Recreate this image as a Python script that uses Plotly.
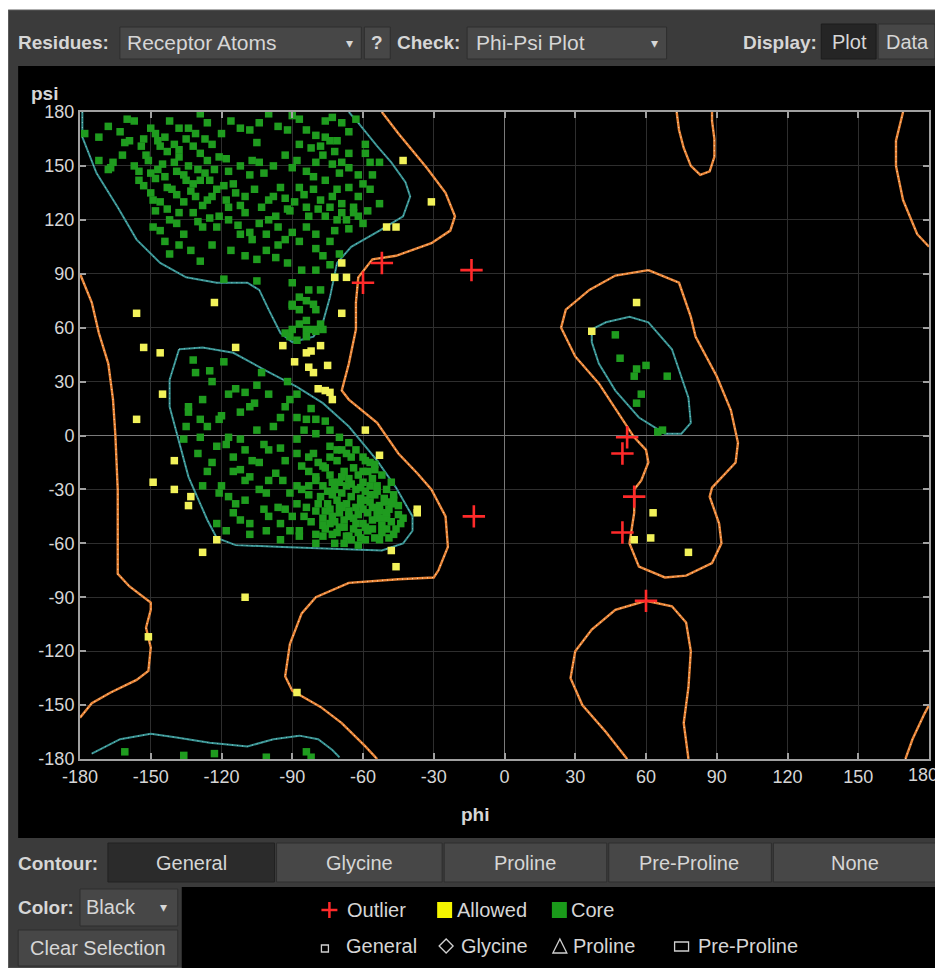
import plotly.graph_objects as go

# ---------------- data ----------------
tick_vals = [-180, -150, -120, -90, -60, -30, 0, 30, 60, 90, 120, 150, 180]

outlier_phi = [-52, -60, -14, -13, 52, 50, 55, 50, 60]
outlier_psi = [96, 85, 92, -45, -1, -10, -34, -54, -92]

allowed_phi = [-43, -31, -50, -46, -69, -67, -72, -69, -123, -156, -153, -114, -94, -78,
               -146, -145, -89, -84, -82, -83, -81, -75, -79, -76, -74, -73, -59, -53,
               -156, -140, -149, -140, -133, -134, -122, -128, -37, -37, -48, -46,
               -110, -151, -88, 56, 37, 63, 62, 78, 55]
allowed_psi = [153, 130, 116, 116, 96, 88, 88, 68, 74, 68, 49, 49, 50, 50,
               46, 23, 41, 46, 47, 38, 35, 39, 26, 25, 24, 20, 3, -11,
               9, -14, -26, -30, -34, -39, -58, -65, -41, -43, -64, -73,
               -90, -112, -143, 74, 58, -43, -57, -65, -58]

core_phi = [
    # beta region
    -178, -172, -163, -157, -150, -142, -138, -134, -129, -126, -112, -100, -92, -87, -80, -76, -73, -76, -71, -66, -59,
    -161, -159, -154, -152, -151, -148, -146, -143, -147, -138, -138, -132, -129, -126, -124, -121, -118, -105, -107, -104,
    -90, -87, -78, -74, -73, -69, -66, -59, -57, -53, -172, -167, -166, -168,
    -155, -153, -155, -147, -145, -148, -143, -141, -139, -136, -135, -132, -129, -127, -125, -131, -126, -122, -119, -115,
    -114, -110, -100, -98, -95, -91, -87, -81, -81, -76, -73, -71, -69, -66, -64, -62, -57, -53, -149, -136, -70, -78,
    -148, -146, -142, -139, -136, -132, -128, -122, -121, -117, -110, -104, -100, -97, -96, -92, -87, -84, -76, -71, -67,
    -64, -60, -149, -112, -107, -93, -80,
    -142, -129, -119, -105, -97, -105, -80, -77, -70,
    -168, -160, -153, -144, -140, -135, -131, -127, -120, -116, -108, -104, -96, -90, -84, -82, -69, -63,
    -162, -157, -150, -144, -140, -134, -130, -123, -117, -112, -108, -102, -98, -93, -88, -84, -80, -77, -72, -66,
    -62, -60, -56, -150, -146, -139, -133, -128, -124, -118, -112, -106, -103, -93, -89, -85, -83, -79, -74, -69,
    -66, -62, -58, -143, -138, -130, -125, -117, -113, -108, -101, -96, -90, -84, -80, -74, -72,
    -144, -138, -133, -124, -116, -110, -101, -92, -86, -74, -72,
    # bridge
    -90, -87, -90, -87, -84, -81, -78, -83, -80, -87, -84, -90, -84, -91, -81, -78, -77, -90,
    -93, -88, -84, -80,
    # alpha region
    -132, -125, -119, -131, -103, -105, -114, -117, -100, -134, -134, -129, -126, -120, -121, -112, -108, -106, -93, -95,
    -91, -88, -112, -117, -129, -136, -105, -104, -107, -100, -95, -88, -84, -80, -76, -85, -80, -74, -70, -66,
    -93, -88, -83, -86, -122, -115, -124, -112, -108, -128, -121, -117, -114, -115, -110, -108, -101, -102, -94, -97,
    -91, -88, -93, -87, -87, -83, -80, -77, -74, -71, -67, -63, -60, -57, -55,
    -80, -77, -74, -72, -70, -68, -66, -64, -62, -60, -58, -56, -54, -52, -50, -48,
    -78, -75, -73, -71, -69, -67, -65, -63, -61, -59, -57, -55, -53, -51, -49, -47, -45,
    -80, -77, -74, -72, -70, -68, -66, -64, -62, -60, -58, -56, -54, -52, -50, -48, -46, -44,
    -76, -73, -70, -67, -64, -61, -58, -55, -52, -49, -68, -62,
    -84, -82, -86, -83, -79, -71, -65, -59, -63, -67, -57, -61, -69, -75, -53, -59,
    -118, -122, -112, -101, -95, -91, -108, -77, -66, -59,
    -76, -73, -69, -65, -61, -57, -54, -50, -47, -45, -43, -79, -76, -73, -70, -66, -63, -60, -56, -53,
    -50, -48, -77, -74, -71, -68, -65, -62, -59, -56, -53, -50, -47, -80, -83, -85, -88, -81, -74, -69,
    -60, -55, -90, -96, -100, -104, -110, -115, -120, -118, -110, -102, -98, -88, -82, -92, -110, -124, -128, -135,
    -130, -126, -100, -95, -80, -72,
    # left-handed region
    47, 49, 56, 55, 60, 69, 58, 56, 67, 65,
    # bottom strip
    -161, -136, -123, -101, -84, -82,
]
core_psi = [
    168, 166, 169, 175, 171, 175, 171, 171, 179, 174, 171, 179, 170, 176, 167, 175, 177, 166, 164, 169, 162,
    163, 164, 161, 156, 153, 168, 161, 158, 164, 159, 155, 161, 157, 153, 162, 155, 154, 163, 153, 152,
    149, 162, 161, 164, 151, 152, 149, 157, 152, 152, 153, 149, 152, 148,
    147, 139, 142, 148, 151, 143, 138, 137, 147, 145, 142, 140, 142, 146, 142, 133, 131, 137, 139, 140,
    135, 133, 131, 133, 138, 125, 138, 137, 144, 142, 133, 137, 129, 138, 127, 133, 137, 129, 131, 130, 146, 131,
    125, 114, 120, 118, 112, 124, 116, 116, 122, 127, 124, 118, 120, 122, 116, 126, 108, 127, 122, 120, 120,
    124, 118, 116, 112, 109, 109, 112,
    101, 97, 87, 98, 99, 86, 92, 100, 101,
    172, 176, 165, 166, 162, 165, 168, 165, 168, 175, 170, 174, 172, 178, 170, 160, 174, 176,
    156, 150, 146, 144, 152, 150, 148, 148, 147, 150, 145, 146, 150, 156, 153, 147, 152, 156, 158, 157,
    145, 140, 145, 135, 130, 134, 136, 128, 133, 131, 128, 137, 127, 132, 130, 134, 122, 126, 127, 124,
    115, 122, 125, 126, 124, 119, 121, 120, 117, 113, 112, 106, 113, 116, 104, 108, 114,
    108, 106, 103, 106, 103, 100, 103, 96, 92, 95, 88,
    85, 77, 73, 70, 75, 73, 81, 81, 70, 62, 64, 59, 59, 55, 59, 62, 59, 72,
    57, 53, 55, 58,
    42, 36, 41, 35, 35, 28, 26, 23, 23, 16, 13, 9, 5, 11, 9, 13, 16, 18, 16, 10,
    20, 23, -2, -1, -1, -2, 3, -15, -14, -8, -7, -2, 9, 9, 8, 3, 1, 3, -1, -4,
    -14, -10, -12, -17, -6, -12, -15, -19, -23, -28, -32, -34, -38, -43, -36, -49, -32, -41, -25, -21,
    -32, -38, -41, -53, -56, -28, -23, -17, -12, -8, -10, -8, -12, -15, -19,
    -25, -28, -22, -30, -26, -20, -24, -18, -22, -26, -20, -24, -28, -22, -30, -26,
    -34, -38, -33, -36, -32, -38, -34, -40, -35, -31, -37, -33, -39, -35, -41, -36, -44,
    -42, -46, -41, -48, -43, -47, -42, -46, -44, -49, -43, -47, -44, -50, -46, -48, -52, -49,
    -52, -55, -51, -56, -52, -57, -53, -57, -54, -57, -60, -61,
    -40, -48, -30, -20, -15, -14, -12, -14, -30, -28, -28, -38, -40, -31, -46, -36,
    -53, -49, -47, -53, -49, -53, -55, -56, -56, -51,
    -18, -26, -23, -27, -29, -33, -31, -37, -33, -39, -46, -38, -42, -45, -39, -45, -49, -41, -40, -42,
    -43, -38, -50, -49, -54, -51, -58, -54, -58, -52, -58, -52, -55, -55, -33, -45, -28, -10, -6, -8,
    -20, -16, -45, -40, -25, -30, -25, -20, -28, -5, -8, -5, 5, 10, 15, 30, 24, 30, 20, 5,
    -10, -20, -45, -58, -60, -60,
    56, 43, 37, 33, 39, 33, 23, 18, 3, 2,
    -176, -178, -177, -179, -176, -179,
]

# allowed-region (orange) contours
allow1_phi = [-52, -45, -33, -25, -21, -23, -31, -46, -56, -62, -63, -63, -66, -69, -66, -54, -45, -37, -31, -25,
              -24, -28, -30, -45, -66, -80, -86, -91, -93, -90, -78, -69, -59, -54]
allow1_psi = [180, 168, 149, 135, 122, 114, 107, 100, 98, 88, 74, 59, 40, 25, 20, 7, -10, -21, -30, -45,
              -62, -75, -79, -80, -82, -90, -99, -116, -134, -142, -151, -160, -173, -180]
allow2_phi = [-180, -175, -172, -168, -166, -165, -164, -164, -164, -159, -150, -150, -152, -150, -151, -156, -167, -175, -180]
allow2_psi = [90, 74, 57, 40, 20, 0, -30, -55, -77, -84, -93, -97, -107, -118, -131, -136, -143, -149, -157]
allow3_phi = [61, 74, 79, 81, 90, 96, 99, 98, 88, 87, 91, 92, 88, 77, 68, 57, 53, 55, 55, 58, 61, 60, 55, 48, 40, 30, 24, 26, 36, 47, 61]
allow3_psi = [92, 85, 66, 55, 33, 14, -4, -15, -29, -34, -49, -60, -71, -78, -79, -73, -60, -43, -30, -25, -15, -8, -1, 13, 29, 44, 60, 70, 81, 89, 92]
allow4_phi = [52, 43, 33, 28, 30, 37, 47, 60, 71, 77, 79, 78, 76, 78]
allow4_psi = [-180, -165, -150, -135, -120, -108, -97, -92, -95, -104, -120, -140, -160, -180]
allow5_phi = [73, 74, 76, 79, 83, 87, 89, 89, 88, 88]
allow5_psi = [180, 170, 160, 150, 145, 147, 155, 165, 175, 180]
allow6_phi = [169, 166, 166, 169, 175, 180]
allow6_psi = [180, 164, 150, 131, 112, 105]
allow7_phi = [170, 173, 178, 180]
allow7_psi = [-180, -169, -155, -150]

# core-region (teal) contours
core1_phi = [-179, -179, -173, -164, -156, -146, -135, -122, -109, -104, -100, -95, -90, -81, -77, -74, -71, -65, -53, -43,
             -40, -42, -48, -54, -62, -66]
core1_psi = [180, 166, 146, 127, 109, 96, 88, 85, 85, 81, 70, 57, 52, 55, 63, 77, 96, 105, 114, 122,
             133, 141, 152, 161, 174, 180]
core2_phi = [-138, -142, -142, -138, -134, -129, -126, -122, -114, -94, -73, -52, -43, -39, -39, -46, -54, -66, -77, -88,
             -101, -115, -128, -138]
core2_psi = [48, 31, 16, -3, -23, -38, -47, -57, -61, -62, -63, -64, -60, -53, -45, -29, -14, 5, 18, 27,
             36, 46, 49, 48]
core3_phi = [37, 43, 53, 61, 71, 78, 79, 75, 68, 57, 47, 40, 37, 37]
core3_psi = [59, 63, 66, 63, 48, 21, 7, 1, 1, 10, 25, 40, 52, 59]
core4_phi = [-175, -163, -150, -139, -125, -109, -98, -87, -79, -73, -70]
core4_psi = [-177, -169, -166, -168, -171, -173, -169, -167, -169, -175, -179]

allowed_contours = [(allow1_phi, allow1_psi), (allow2_phi, allow2_psi), (allow3_phi, allow3_psi),
                    (allow4_phi, allow4_psi), (allow5_phi, allow5_psi), (allow6_phi, allow6_psi),
                    (allow7_phi, allow7_psi)]
core_contours = [(core1_phi, core1_psi), (core2_phi, core2_psi), (core3_phi, core3_psi), (core4_phi, core4_psi)]

# ---------------- figure ----------------
OFF = 8                      # page body margin of the html page
W, H = 943 - OFF, 968 - OFF  # figure size
L, R, T, B = 80, 931, 112, 759  # plot area in page pixels


def px(x):
    return (x - L) / (R - L)


def py(y):
    return (B - y) / (B - T)


FONT = "Liberation Sans, Arial, sans-serif"
TXT = "#d6d6d6"
UI = 20

fig = go.Figure()

for cphi, cpsi in allowed_contours:
    fig.add_trace(go.Scatter(x=cphi, y=cpsi, mode="lines", line=dict(color="#ea8638", width=2.4),
                             hoverinfo="skip", showlegend=False))
    fig.add_trace(go.Scatter(x=cphi, y=cpsi, mode="lines", line=dict(color="#ffd2a8", width=1.2, dash="1px,4px"),
                             hoverinfo="skip", showlegend=False))
for cphi, cpsi in core_contours:
    fig.add_trace(go.Scatter(x=cphi, y=cpsi, mode="lines", line=dict(color="#379292", width=2),
                             hoverinfo="skip", showlegend=False))
    fig.add_trace(go.Scatter(x=cphi, y=cpsi, mode="lines", line=dict(color="#8cc8c8", width=1, dash="1px,4px"),
                             hoverinfo="skip", showlegend=False))

fig.add_trace(go.Scatter(x=core_phi, y=core_psi, mode="markers", name="Core",
                         marker=dict(symbol="square", size=7.5, color="#1f9c1f", line=dict(width=0)),
                         showlegend=False))
fig.add_trace(go.Scatter(x=allowed_phi, y=allowed_psi, mode="markers", name="Allowed",
                         marker=dict(symbol="square", size=7.5, color="#f2f25a", line=dict(width=0)),
                         showlegend=False))
fig.add_trace(go.Scatter(x=outlier_phi, y=outlier_psi, mode="markers", name="Outlier",
                         marker=dict(symbol="cross-thin", size=16, color="#ff2a2a",
                                     line=dict(width=2.6, color="#ff2a2a")),
                         showlegend=False))

shapes = []


def rect(x0, y0, x1, y1, fill, line="rgba(0,0,0,0)", lw=0):
    shapes.append(dict(type="rect", xref="paper", yref="paper", x0=px(x0), x1=px(x1), y0=py(y1), y1=py(y0),
                       fillcolor=fill, line=dict(color=line, width=lw), layer="below"))


def path(pts, fill=None, line="#d0d0d0", lw=1.3):
    d = "M " + " L ".join(f"{px(a):.5f},{py(b):.5f}" for a, b in pts) + " Z"
    shapes.append(dict(type="path", xref="paper", yref="paper", path=d,
                       fillcolor=fill if fill else "rgba(0,0,0,0)", line=dict(color=line, width=lw)))


# panels
rect(8, 10, 943, 968, "#3b3b3b", "#5c5c5c", 1)
rect(18, 66, 940, 838, "#000000")
# toolbar controls
rect(120, 27, 362, 59, "#474747", "#2e2e2e", 1)
rect(365, 27, 391, 59, "#474747", "#2e2e2e", 1)
rect(468, 27, 668, 59, "#474747", "#2e2e2e", 1)
rect(823, 24, 878, 59, "#252525", "#1c1c1c", 1)
rect(880, 24, 937, 59, "#474747", "#2e2e2e", 1)
# contour bar
rect(108, 843, 275, 882, "#2b2b2b", "#222222", 1)
for x0, x1 in [(277, 443), (445, 608), (610, 773), (775, 940)]:
    rect(x0, 843, x1, 882, "#474747", "#2e2e2e", 1)
# colour / clear selection
rect(80, 889, 178, 926, "#474747", "#2e2e2e", 1)
rect(18, 930, 178, 966, "#474747", "#2e2e2e", 1)
rect(182, 887, 940, 968, "#000000")

# legend symbols
shapes.append(dict(type="line", xref="paper", yref="paper", x0=px(322), x1=px(338), y0=py(910), y1=py(910),
                   line=dict(color="#ff2a2a", width=2.5)))
shapes.append(dict(type="line", xref="paper", yref="paper", x0=px(330), x1=px(330), y0=py(902), y1=py(918),
                   line=dict(color="#ff2a2a", width=2.5)))
rect(438, 902, 453, 918, "#f5f500")
rect(553, 902, 568, 918, "#1a9a1a")
path([(322, 945), (329, 945), (329, 952), (322, 952)])
path([(440, 946), (447, 939), (454, 946), (447, 953)])
path([(554, 953), (561, 939), (568, 953)])
path([(676, 942), (690, 942), (690, 951), (676, 951)])

annotations = []


def text(x, y, s, size=UI, anchor="left", bold=False, color=TXT):
    annotations.append(dict(xref="paper", yref="paper", x=px(x), y=py(y), text=f"<b>{s}</b>" if bold else s,
                            showarrow=False, xanchor=anchor, yanchor="middle",
                            font=dict(family=FONT, size=size, color=color)))


text(16, 43, "Residues:", bold=True, size=19)
text(125, 43, "Receptor Atoms", size=21)
text(350, 43, "▾", size=14, anchor="center")
text(378, 43, "?", bold=True, anchor="center", size=19)
text(396, 43, "Check:", bold=True, size=19)
text(475, 43, "Phi-Psi Plot", size=21)
text(656, 43, "▾", size=14, anchor="center")
text(821, 43, "Display:", bold=True, anchor="right", size=19)
text(851, 42, "Plot", anchor="center", size=20)
text(909, 42, "Data", anchor="center", size=20)
text(44, 94, "psi", bold=True, anchor="center", size=19)
text(476, 814, "phi", bold=True, anchor="center", size=19)
text(16, 863, "Contour:", bold=True, size=19)
text(192, 863, "General", anchor="center")
text(360, 863, "Glycine", anchor="center")
text(526, 863, "Proline", anchor="center")
text(690, 863, "Pre-Proline", anchor="center")
text(857, 863, "None", anchor="center")
text(16, 907, "Color:", bold=True, size=19)
text(84, 907, "Black")
text(164, 907, "▾", size=14, anchor="center")
text(98, 948, "Clear Selection", anchor="center")
text(346, 910, "Outlier")
text(456, 910, "Allowed")
text(570, 910, "Core")
text(345, 946, "General")
text(460, 946, "Glycine")
text(572, 946, "Proline")
text(697, 946, "Pre-Proline")
# last x tick label sits on the page edge; plotly hides it, so place it as text
text(942, 775, str(tick_vals[-1]), size=18, anchor="right")

axis_common = dict(range=[-180, 180], tickvals=tick_vals, ticktext=[str(v) for v in tick_vals],
                   showgrid=True, gridcolor="#2e2e2e", gridwidth=1,
                   zeroline=True, zerolinecolor="#7a7a7a", zerolinewidth=1,
                   showline=True, linecolor="#a0a0a0", linewidth=2, mirror="ticks",
                   ticks="inside", ticklen=6, tickcolor="#a0a0a0", tickwidth=1.5,
                   tickfont=dict(family=FONT, size=18, color=TXT), fixedrange=True)

fig.update_layout(
    width=W, height=H,
    margin=dict(l=L - OFF, r=(OFF + W) - R, t=T - OFF, b=(OFF + H) - B, pad=0),
    paper_bgcolor="#ffffff", plot_bgcolor="#000000",
    xaxis=dict(**axis_common),
    yaxis=dict(**axis_common),
    shapes=shapes, annotations=annotations,
    showlegend=False,
)

fig.write_html("out.html")
